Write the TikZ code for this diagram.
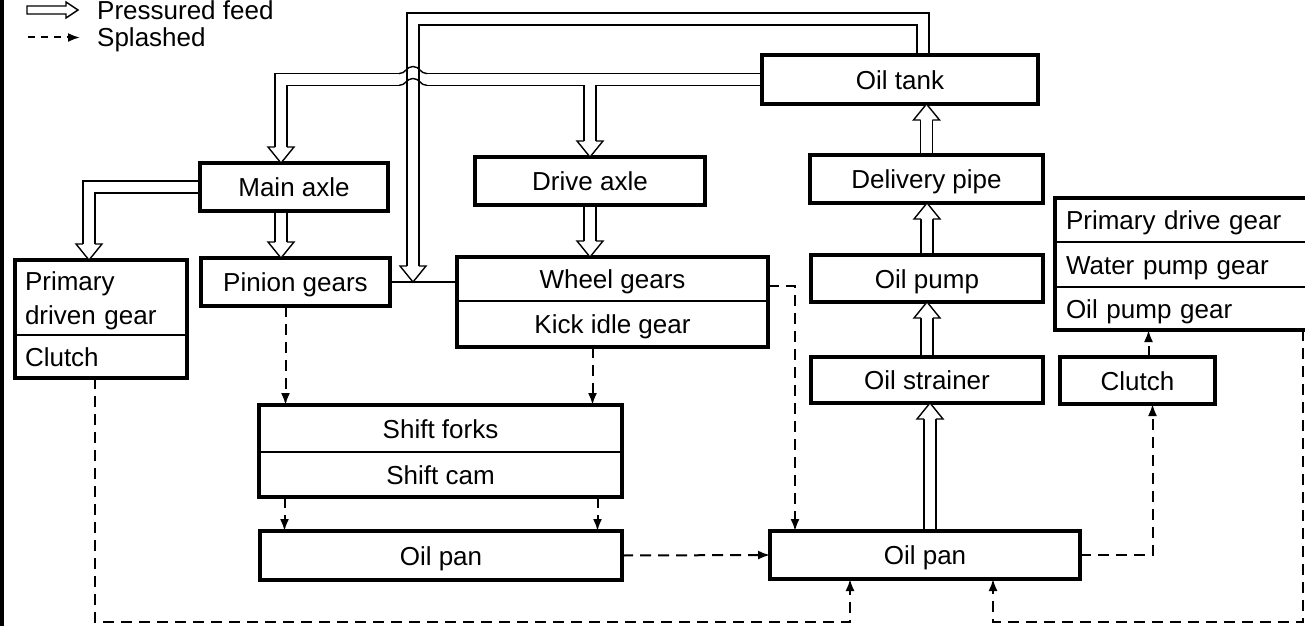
\documentclass[tikz,border=0pt]{standalone}
\usepackage{fontspec}
\setmainfont{Liberation Sans}
\usetikzlibrary{arrows.meta}
\newcommand\boxfont{\fontsize{26}{34}\selectfont}

\tikzset{
  cell/.style={draw, line width=1.8pt, inner sep=0pt, outer sep=0pt,
    anchor=north west, font=\boxfont, text height=19pt, text depth=0pt},
  box/.style={cell, line width=3.3pt},
  lcell/.style={cell, align=left, text width=#1},
  legend/.style={font=\boxfont, inner sep=0pt, anchor=base west,
    text height=19pt, text depth=0pt},
  frame/.style={line width=3.3pt},
  feed/.style 2 args={line width=#1, draw=#2, shorten >=16pt, shorten <=1.7pt},
  splash/.style={line width=2pt, dash pattern=on 11pt off 7pt,
    -{Latex[length=12pt, width=9pt]}},
  feedhead/.pic={
    \fill[white] (-13,-16) -- (0,0) -- (13,-16) -- cycle;
    \draw[line width=1.4pt] (-5.85,-16) -- (-13,-16) -- (0,0) -- (13,-16) -- (5.85,-16);
  }
}

\begin{document}
\begin{tikzpicture}[x=1pt, y=-1pt]
\useasboundingbox (0,0) rectangle (1305,626);

% left edge of the page
\draw[line width=4pt] (2,0) -- (2,626);

% legend
\draw[line width=1.4pt, fill=white] (27,6) -- (66,6) -- (66,2) -- (78,10)
  -- (66,18) -- (66,14) -- (27,14) -- cycle;
\node[legend] (lgfeed) at (97,20) {Pressured feed};
\node[legend] (lgsplash) at (97,47) {Splashed};
\draw[splash, dash pattern=on 7pt off 6pt] ([xshift=-69pt]lgsplash.west) -- ([xshift=-17pt]lgsplash.west);

% ---- boxes ----
\node[box, minimum width=276pt, minimum height=49pt] (oiltank) at (762,55) {Oil tank};
\node[box, minimum width=188pt, minimum height=48pt] (mainaxle) at (200,163) {Main axle};
\node[box, minimum width=230pt, minimum height=48pt] (driveaxle) at (475,157) {Drive axle};
\node[box, minimum width=233pt, minimum height=48pt] (delivery) at (810,155) {Delivery pipe};

\node[lcell=152pt, minimum width=172pt, minimum height=75pt, text depth=34pt]
  (primdriven) at (15,260) {Primary\\driven gear};
\node[lcell=152pt, minimum width=172pt, minimum height=43pt] (clutchL) at (15,335) {Clutch};
\draw[frame] (primdriven.north west) rectangle (clutchL.south east);

\node[box, minimum width=189pt, minimum height=48pt] (pinion) at (201,258) {Pinion gears};

\node[cell, minimum width=311pt, minimum height=44pt] (wheel) at (457,257) {Wheel gears};
\node[cell, minimum width=311pt, minimum height=46pt] (kick) at (457,301) {Kick idle gear};
\draw[frame] (wheel.north west) rectangle (kick.south east);

\node[box, minimum width=232pt, minimum height=47pt] (oilpump) at (811,255) {Oil pump};
\node[box, minimum width=232pt, minimum height=46pt] (strainer) at (811,357) {Oil strainer};
\node[box, minimum width=155pt, minimum height=47pt] (clutchR) at (1060,357) {Clutch};

\node[lcell=233pt, minimum width=255pt, minimum height=44pt] (pdg) at (1055,198) {Primary drive gear};
\node[lcell=233pt, minimum width=255pt, minimum height=45pt] (wpg) at (1055,242) {Water pump gear};
\node[lcell=233pt, minimum width=255pt, minimum height=43pt] (opg) at (1055,287) {Oil pump gear};
\draw[frame] (pdg.north west) rectangle (opg.south east);

\node[cell, minimum width=363pt, minimum height=47pt] (shiftforks) at (259,405) {Shift forks};
\node[cell, minimum width=363pt, minimum height=45pt] (shiftcam) at (259,452) {Shift cam};
\draw[frame] (shiftforks.north west) rectangle (shiftcam.south east);

\node[box, minimum width=362pt, minimum height=49pt] (oilpanL) at (260,531) {Oil pan};
\node[box, minimum width=310pt, minimum height=48pt] (oilpanR) at (770,531) {Oil pan};

% gears on one shaft line
\draw[line width=1.6pt] (pinion.east) -- (pinion.east -| wheel.west);

\coordinate (looptop) at (413,19);
\coordinate (feedtip) at (pinion.east -| looptop);
\coordinate (hop) at (feedtip |- oiltank.west);
\coordinate (floor) at (0,622);
\coordinate (edge) at ([xshift=-7pt]opg.south east);

% ---- pressured feed: black pass, then white pass ----
\foreach \w/\c in {13.2pt/black, 10.4pt/white}{
  \draw[feed={\w}{\c}] ([xshift=23pt]oiltank.north) |- (looptop) -- (feedtip);
  \draw[feed={\w}{\c}] (oiltank.west) -| ([xshift=-13pt]mainaxle.north);
  \draw[feed={\w}{\c}] (driveaxle.north |- oiltank.west) -- (driveaxle.north);
  \draw[feed={\w}{\c}] (mainaxle.west) -| ([xshift=-12pt]primdriven.north);
  \draw[feed={\w}{\c}] ([xshift=-13pt]mainaxle.south) -- ([xshift=-13pt]mainaxle.south |- pinion.north);
  \draw[feed={\w}{\c}] (driveaxle.south) -- (driveaxle.south |- wheel.north);
  \draw[feed={\w}{\c}] (delivery.north) -- (delivery.north |- oiltank.south);
  \draw[feed={\w}{\c}] (oilpump.north) -- (oilpump.north |- delivery.south);
  \draw[feed={\w}{\c}] (strainer.north) -- (strainer.north |- oilpump.south);
  \draw[feed={\w}{\c}] ([xshift=5pt]oilpanR.north) -- ([xshift=5pt]oilpanR.north |- strainer.south);
}

% pipe hops over the return pipe
\begin{scope}[shift={(hop)}]
  \fill[white] (-14,-9) rectangle (14,9);
  \draw[line width=1.4pt] (-5.9,-9.5) -- (-5.9,9.5) (5.9,-9.5) -- (5.9,9.5);
  \draw[line width=1.4pt] (-14,-5.9) .. controls (-7,-5.9) and (-7,-13) .. (0,-13)
    .. controls (7,-13) and (7,-5.9) .. (14,-5.9);
  \draw[line width=1.4pt] (-14,5.9) .. controls (-7,5.9) and (-7,-1) .. (0,-1)
    .. controls (7,-1) and (7,5.9) .. (14,5.9);
\end{scope}

% hollow heads
\pic at (feedtip) {feedhead};
\pic at ([xshift=-13pt]mainaxle.north) {feedhead};
\pic at (driveaxle.north) {feedhead};
\pic at ([xshift=-12pt]primdriven.north) {feedhead};
\pic at ([xshift=-13pt]mainaxle.south |- pinion.north) {feedhead};
\pic at (driveaxle.south |- wheel.north) {feedhead};
\pic[rotate=180] at (delivery.north |- oiltank.south) {feedhead};
\pic[rotate=180] at (oilpump.north |- delivery.south) {feedhead};
\pic[rotate=180] at (strainer.north |- oilpump.south) {feedhead};
\pic[rotate=180] at ([xshift=5pt]oilpanR.north |- strainer.south) {feedhead};

% ---- splashed ----
\draw[splash] ([xshift=-10pt]pinion.south) -- ([xshift=-10pt]pinion.south |- shiftforks.north);
\draw[splash] ([xshift=-20pt]kick.south) -- ([xshift=-20pt]kick.south |- shiftforks.north);
\draw[splash] ([xshift=-156pt]shiftcam.south) -- ([xshift=-156pt]shiftcam.south |- oilpanL.north);
\draw[splash] ([xshift=157pt]shiftcam.south) -- ([xshift=157pt]shiftcam.south |- oilpanL.north);
\draw[splash] (oilpanL.east) -- (oilpanR.west);
\draw[splash] ([yshift=-7pt]wheel.east) -| ([xshift=-130pt]oilpanR.north);
\draw[splash] ([xshift=-6pt]clutchL.south) -- ([xshift=-6pt]clutchL.south |- floor)
  -| ([xshift=-75pt]oilpanR.south);
\draw[splash] (edge) -- (edge |- floor) -| ([xshift=68pt]oilpanR.south);
\draw[splash] (oilpanR.east) -| ([xshift=15pt]clutchR.south);
\draw[splash] ([xshift=11pt]clutchR.north) -- ([xshift=11pt]clutchR.north |- opg.south);
\end{tikzpicture}
\end{document}
